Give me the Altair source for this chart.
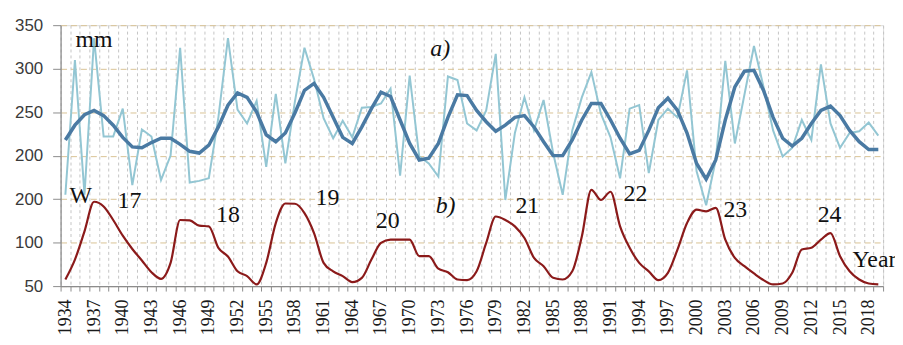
import altair as alt
import pandas as pd

years = list(range(1934, 2020))

precip = [155, 310, 155, 335, 222, 222, 254, 166, 230, 222,
          172, 200, 324, 169, 171, 174, 244, 335, 253, 237,
          263, 187, 271, 191, 262, 324, 288, 243, 220, 240,
          221, 255, 256, 260, 277, 177, 292, 199, 191, 176,
          291, 287, 237, 229, 252, 317, 149, 226, 267, 229,
          264, 203, 155, 229, 267, 296, 248, 221, 174, 254,
          258, 180, 241, 254, 244, 298, 182, 143, 195, 309,
          214, 270, 326, 279, 229, 199, 209, 241, 218, 305,
          237, 209, 226, 228, 238, 223]

smooth = [218, 235, 247, 252, 246, 235, 221, 210, 209, 215,
          220, 220, 213, 205, 203, 212, 233, 258, 272, 267,
          250, 224, 216, 226, 249, 275, 283, 267, 244, 221,
          214, 233, 254, 273, 268, 241, 214, 195, 197, 214,
          244, 270, 269, 252, 239, 228, 235, 244, 246, 233,
          216, 200, 200, 218, 241, 260, 260, 241, 220, 202,
          206, 229, 255, 266, 252, 226, 191, 173, 195, 241,
          279, 297, 298, 275, 244, 220, 211, 220, 237, 252,
          257, 246, 229, 216, 207, 207]

wolf = [57.6, 80.5, 113, 147, 141.6, 126, 108, 92.7, 79.4, 66,
        58.4, 76.7, 126, 125.6, 119.5, 118.7, 94, 84, 67, 61.5,
        52, 76.7, 122.5, 145, 144.7, 134, 111, 76.7, 67, 61.5,
        54.6, 59.5, 80.5, 99.6, 103.4, 103.4, 103.4, 84.4, 84.4, 70,
        66, 57.6, 56.9, 67, 99.6, 130, 126, 118.7, 105.3, 82.4,
        72.9, 59.5, 57.6, 67, 107, 160.7, 149, 158.5, 118.7, 94,
        76.7, 67, 56.9, 65.3, 92, 122.5, 138, 136, 140, 103.4,
        82.4, 72.9, 64.5, 56.9, 51.9, 53, 65.3, 92, 94, 103.4,
        111, 84.4, 67, 57.6, 53, 52]

y_ticks = [50, 100, 150, 200, 250, 300, 350]
y_tick_labels = ["50", "100", "200", "200", "250", "300", "350"]

ann_labels = ["mm", "W", "17", "18", "19", "20", "21", "22", "23", "24", "Year"]
ann_x = [1937.0, 1935.6, 1940.7, 1951.0, 1961.4, 1967.7, 1982.3, 1993.6, 2004.05, 2013.9, 2018.6]
ann_y = [333, 154, 148, 132, 151.6, 125, 142, 156, 138, 132, 79.7]

ital_labels = ["a)", "b)"]
ital_x = [1973.2, 1973.75]
ital_y = [323, 142]

df = pd.DataFrame({"year": years, "precip": precip, "smooth": smooth, "wolf": wolf})
ann = pd.DataFrame({"label": ann_labels, "x": ann_x, "y": ann_y})
ital = pd.DataFrame({"label": ital_labels, "x": ital_x, "y": ital_y})

x_vals = [1933.5 + 0.5 * i for i in range(173)]
label_map = "{" + ",".join(f'"{v}":"{t}"' for v, t in zip(y_ticks, y_tick_labels)) + "}"

xscale = alt.Scale(domain=[1933.5, 2019.5], nice=False, zero=False)
yscale = alt.Scale(domain=[50, 350], nice=False, zero=False)

x_axis = alt.Axis(
    values=x_vals,
    title=None,
    labelExpr="(datum.value % 1 == 0 && (datum.value - 1934) % 3 == 0) ? '' + datum.value : ''",
    labelAngle=270,
    labelAlign="right",
    labelBaseline="middle",
    labelFont="Liberation Serif",
    labelFontSize=18,
    labelColor="#1a1a1a",
    labelPadding=8,
    labelOverlap=False,
    labelFlush=False,
    tickSize=5,
    tickColor="#8c8c8c",
    tickOpacity={"condition": {"test": "datum.value % 1 == 0", "value": 0}, "value": 1},
    domainColor="#8c8c8c",
    domainWidth=1.2,
    grid=True,
    gridColor="#c4c4c4",
    gridDash=[3, 3],
    gridOpacity={"condition": {"test": "datum.value % 1 == 0", "value": 0}, "value": 1},
)

y_axis = alt.Axis(
    values=y_ticks,
    title=None,
    labelExpr=f"{label_map}[''+datum.value]",
    labelFont="Liberation Sans",
    labelFontSize=17,
    labelColor="#3a3a3a",
    labelPadding=10,
    tickSize=8,
    tickColor="#8c8c8c",
    domainColor="#8c8c8c",
    domainWidth=1.2,
    grid=True,
    gridColor="#d9c295",
    gridDash=[6, 4],
)

X = alt.X("year:Q", scale=xscale, axis=x_axis)

light = alt.Chart(df).mark_line(color="#93c6d3", strokeWidth=2).encode(
    x=X, y=alt.Y("precip:Q", scale=yscale, axis=y_axis)
)
dark = alt.Chart(df).mark_line(color="#4a7aa3", strokeWidth=3.5).encode(
    x=X, y=alt.Y("smooth:Q", scale=yscale, axis=y_axis)
)
red = alt.Chart(df).mark_line(color="#8b1a1a", strokeWidth=2.2, interpolate="monotone").encode(
    x=X, y=alt.Y("wolf:Q", scale=yscale, axis=y_axis)
)
txt = alt.Chart(ann).mark_text(font="Liberation Serif", fontSize=24, color="#111111",
                               align="center", baseline="middle").encode(
    x=alt.X("x:Q", scale=xscale, axis=x_axis),
    y=alt.Y("y:Q", scale=yscale, axis=y_axis),
    text="label:N",
)
itxt = alt.Chart(ital).mark_text(font="Liberation Serif", fontSize=24, fontStyle="italic",
                                 color="#111111", align="center", baseline="middle").encode(
    x=alt.X("x:Q", scale=xscale, axis=x_axis),
    y=alt.Y("y:Q", scale=yscale, axis=y_axis),
    text="label:N",
)

chart = alt.layer(light, dark, red, txt, itxt).properties(
    width=829,
    height=263,
    autosize="none",
    padding={"left": 53, "top": 16, "right": 12, "bottom": 50},
).configure_view(stroke=None).configure(background="white")

chart.save("out.html", embed_options={"renderer": "svg", "actions": False})
